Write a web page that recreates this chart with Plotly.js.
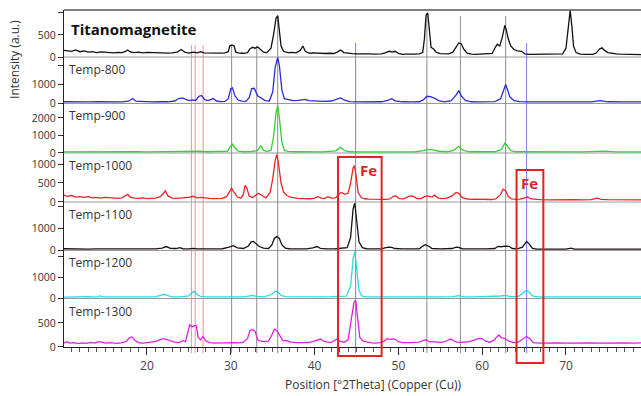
<!DOCTYPE html>
<html>
<head>
<meta charset="utf-8">
<script src="https://cdn.plot.ly/plotly-3.0.1.min.js"></script>
<style>
  html, body { margin: 0; padding: 0; background: #ffffff; }
  #chart { width: 641px; height: 396px; }
</style>
</head>
<body>
<div id="chart"></div>
<script>
// Position [°2θ] / intensity (counts) for each sample, top panel first
const titanoX = [10.1,11,11.5,12,12.5,13,13.5,14,14.5,15,15.5,16,16.5,17,17.4,17.7,18.0,18.5,19,19.5,20,20.5,21,21.5,22,22.5,23,23.6,24.1,24.5,25,25.5,26,26.4,26.8,27.3,27.8,28.3,28.8,29.3,29.7,29.9,30.2,30.4,30.6,31,31.5,32,32.3,32.6,32.9,33.2,33.5,33.9,34.3,34.8,35.1,35.4,35.6,35.8,36.0,36.3,36.8,37.3,37.8,38.3,38.6,38.9,39.3,39.8,40.3,40.8,41.3,41.8,42.3,42.7,43.1,43.5,44.0,44.5,45,45.5,46,46.5,47,47.5,48,48.5,48.9,49.3,49.6,50,50.5,51,51.5,52,52.5,52.9,53.1,53.3,53.5,53.7,53.9,54.2,54.5,55,55.5,56,56.5,56.9,57.2,57.5,57.8,58.2,58.7,59.2,59.7,60.2,60.7,61.2,61.5,61.8,62.1,62.4,62.7,62.9,63.1,63.4,63.8,64.2,64.7,65.1,65.6,66.1,66.6,67.1,67.6,68.1,68.6,69.1,69.6,70.0,70.3,70.5,70.7,70.9,71.2,71.7,72.2,72.7,73.2,73.6,74.0,74.3,74.6,75,75.5,76,76.5,77,77.5,78,79];
const titanoY = [150,130,160,120,140,110,120,100,115,105,110,95,105,100,120,160,115,100,110,95,105,100,110,95,100,90,95,110,170,110,90,110,95,120,95,90,100,85,90,95,120,260,270,250,110,90,85,100,190,220,200,230,180,110,100,200,500,880,940,620,250,130,100,105,95,150,250,130,90,95,85,90,80,85,80,110,160,100,80,75,70,75,65,70,65,70,70,100,130,110,130,85,60,65,60,65,70,100,400,950,1000,600,220,180,110,75,65,70,110,230,320,300,180,90,65,60,65,60,65,80,200,290,250,450,720,600,420,250,170,140,130,70,60,60,55,60,55,60,55,60,70,200,800,1060,700,250,100,65,60,55,60,90,180,210,150,100,80,70,65,60,60,55,55];

const t800X = [10.1,11,12,13,14,15,16,17,17.8,18.3,18.7,19.5,20.5,21.5,22.5,23.3,23.8,24.2,24.6,25,25.4,25.8,26.2,26.5,26.9,27.3,27.9,28.3,28.8,29.3,29.7,30.0,30.2,30.5,30.9,31.3,31.8,32.2,32.5,32.8,33.2,33.7,34.1,34.6,35.0,35.3,35.6,35.8,36.1,36.4,36.9,37.4,38,38.6,38.9,39.3,40,41,42,42.6,43.1,43.6,44.2,45,46,47,48,48.8,49.2,49.6,50.5,51.5,52.5,53.0,53.4,53.8,54.3,54.8,55.5,56.3,56.9,57.2,57.5,58,58.7,59.5,60.5,61.5,62.2,62.6,62.8,63.0,63.3,63.8,64.5,65.5,67,69,71,73,74.1,75,77,79];
const t800Y = [90,80,100,80,90,80,90,85,120,260,120,90,85,95,90,130,260,290,200,150,190,160,380,420,200,150,260,130,100,110,250,780,820,400,180,120,110,300,780,800,400,250,150,130,600,1900,2420,2000,700,250,180,150,160,200,220,150,120,110,130,200,290,170,100,85,80,80,90,180,250,140,90,80,90,200,380,360,280,150,90,150,450,680,400,160,90,80,80,100,250,700,1000,750,350,150,100,80,75,80,80,85,150,90,80,80];

const t900X = [10.1,12,14,16,18,18.3,18.7,20,22,24,25.5,26.3,27,28.5,29.6,30.0,30.2,30.5,30.9,31.5,32.5,33.2,33.6,33.9,34.3,34.8,35.1,35.4,35.6,35.8,36.1,36.4,37,38,39,40,41,42.5,43.1,43.6,44.2,45,46,48,50,52,53.0,53.5,54.2,54.8,55.8,56.6,57.2,57.7,58.5,60,61.5,62.3,62.7,63.0,63.4,64,66,68,70,72,74.5,76,79];
const t900Y = [60,70,60,65,80,110,70,60,65,70,110,100,70,65,100,400,500,300,100,70,75,150,420,150,90,150,900,2300,2700,2000,600,150,80,70,70,65,65,120,320,130,70,65,60,65,60,70,140,200,180,100,70,150,380,150,70,65,70,200,560,400,130,70,65,60,65,60,110,65,60];

const t1000X = [10.1,10.5,11,11.5,12,12.5,13,13.5,14,14.5,15,15.5,16,16.5,17,17.4,17.7,18,18.5,19,19.5,20,20.5,21,21.6,22.0,22.2,22.5,23,23.5,24,24.5,25,25.5,26,26.5,27,27.5,28,28.5,29,29.5,29.9,30.1,30.4,30.8,31.2,31.5,31.7,31.9,32.2,32.6,33,33.3,33.7,34.2,34.7,35.0,35.3,35.5,35.7,36.0,36.3,36.7,37.1,37.6,38,38.5,39,39.5,40.0,40.4,40.8,41.2,41.6,42,42.5,42.9,43.2,43.6,44.0,44.3,44.6,44.75,44.95,45.2,45.6,46,46.5,47,47.5,48,48.5,49,49.4,49.7,50.1,50.6,51.0,51.4,51.8,52.2,52.7,53.1,53.5,54.0,54.3,54.7,55.2,55.8,56.4,56.9,57.2,57.6,58.1,58.6,59.1,59.6,60.1,60.6,61.1,61.6,62.2,62.5,62.8,63.1,63.5,64,64.5,65.0,65.4,65.8,66.3,67,68,69,70,71,72,73,73.7,74.2,75,76,77,78,79];
const t1000Y = [180,150,170,130,140,120,140,110,120,100,120,110,105,95,110,150,200,130,100,95,110,90,95,100,140,260,290,160,100,95,100,110,120,150,110,120,100,95,90,100,95,140,300,360,250,130,100,200,440,380,150,120,180,230,170,110,250,600,1100,1250,1000,500,260,170,130,100,95,90,85,85,100,140,100,90,140,100,110,210,250,200,230,500,900,960,700,250,110,85,75,70,70,75,70,80,150,160,90,80,120,160,150,90,90,140,160,130,180,110,90,100,160,250,230,120,85,70,75,70,65,70,65,80,200,340,300,150,80,70,75,100,130,80,65,60,55,60,55,60,55,60,100,70,60,55,60,50,55];

const t1100X = [10.1,11,12,13,14,15,16,17,18,19,20,21,21.8,22.3,22.8,23.5,23.9,24.3,25,25.5,26,27,28,29,29.8,30.3,30.8,31.5,32.1,32.4,32.7,33.0,33.4,33.9,34.5,34.9,35.2,35.5,35.8,36.1,36.5,37,38,39,39.8,40.3,40.7,41.5,42.5,43.3,43.9,44.3,44.6,44.8,45.0,45.3,45.7,46.2,47,48,48.4,48.8,49.2,49.6,50.5,51.5,52.5,52.9,53.2,53.6,54,55,56.4,56.9,57.2,57.6,58.5,59.5,60.5,61.5,61.9,62.3,62.7,63.2,63.6,64.2,64.8,65.3,65.6,66,66.5,68,70,70.6,71,73,75,76,79];
const t1100Y = [80,70,85,65,75,65,80,70,75,65,80,70,110,180,100,90,130,80,75,95,75,70,75,80,150,215,120,90,200,380,410,300,180,110,90,250,550,640,550,250,110,80,75,70,120,180,100,75,80,100,130,600,1900,2150,1500,400,130,80,70,75,120,150,140,90,75,70,80,200,260,200,90,70,90,150,140,80,70,75,70,90,190,170,200,190,90,70,150,410,300,100,65,60,65,110,65,60,70,60,60];

const t1200X = [10.1,11,12,13,14,14.4,14.8,16,17,18,19,20,21,21.6,22.1,22.6,23,24,25,25.4,25.7,26.0,26.4,27,28,29,30,30.5,31.5,32.3,32.6,33,34,34.9,35.3,35.6,36,36.5,37.5,39,40,41,42,43,43.8,44.3,44.6,44.8,45.0,45.3,45.6,46.2,47,48,49,50,51,52,53,53.5,54,55,56.5,57.2,57.8,59,60,61,62.2,62.8,63.3,64.3,64.9,65.3,65.6,66,66.6,68,70,72,74,76,78,79];
const t1200Y = [70,80,75,85,70,120,75,70,80,75,80,75,80,150,200,120,80,75,120,300,320,180,100,80,75,75,100,90,80,130,150,100,80,200,350,330,150,90,80,80,85,80,85,90,110,600,1900,2230,1600,400,120,80,75,80,85,75,80,75,90,110,80,75,90,140,80,75,80,80,120,150,90,90,250,400,300,120,80,75,75,80,75,80,75,75];

const t1300X = [10.1,10.4,10.8,11.3,11.8,12.3,12.8,13.3,13.8,14.2,14.6,15,15.5,16,16.5,17,17.5,17.9,18.2,18.6,19,19.5,20,20.5,21,21.5,21.9,22.3,22.8,23.3,23.8,24.3,24.6,24.9,25.1,25.4,25.7,25.9,26.1,26.4,26.7,27,27.5,28,28.5,29,29.5,30,30.5,31,31.5,32.0,32.3,32.6,32.9,33.2,33.6,34,34.5,34.9,35.2,35.5,35.8,36.2,36.7,37.2,37.8,38.3,38.8,39.3,39.8,40.3,40.7,41.1,41.5,42,42.4,42.7,43.0,43.5,44.0,44.4,44.7,44.9,45.1,45.4,45.8,46.3,46.8,47.3,47.8,48.3,48.6,49,49.3,49.6,50,50.5,51,51.5,52,52.5,53,53.3,53.7,54.2,54.7,55.2,55.8,56.2,56.6,57,57.5,58,58.5,59.1,59.6,60,60.4,60.9,61.4,61.8,62.0,62.3,62.7,63.2,63.7,64.3,64.9,65.3,65.7,66.1,66.8,67.5,68,68.5,69,70,71,72,73,74,75,76,77,78,79];
const t1300Y = [80,110,80,90,70,85,75,95,80,110,100,80,90,85,75,90,110,190,210,130,90,80,85,90,110,150,175,160,130,100,90,130,110,350,460,420,450,440,200,150,220,130,90,80,85,80,90,100,90,85,100,180,350,360,330,150,120,110,120,250,370,340,260,140,130,100,90,85,80,90,110,150,165,120,100,95,130,170,120,100,150,550,930,970,600,200,120,95,85,80,90,120,175,160,170,160,110,90,85,90,95,100,140,150,110,100,105,95,130,165,130,100,95,100,110,150,180,170,120,100,140,220,250,190,180,120,90,100,180,220,170,90,80,85,90,80,85,80,85,80,85,80,85,80,85,80,85,80,80];

const sampleNames = ['Titanomagnetite', 'Temp-800', 'Temp-900', 'Temp-1000', 'Temp-1100', 'Temp-1200', 'Temp-1300'];
const seriesX = [titanoX, t800X, t900X, t1000X, t1100X, t1200X, t1300X];
const seriesY = [titanoY, t800Y, t900Y, t1000Y, t1100Y, t1200Y, t1300Y];

// Tick labels shown on each panel's intensity axis
const panelTicks = [
  [0, 500, 1000],
  [0, 1000, 2000],
  [0, 1000, 2000],
  [0, 500, 1000],
  [0, 1000, 2000],
  [0, 1000, 2000],
  [0, 500, 1000]
];
const panelTickText = [
  ['0', '500', ''],
  ['0', '1000', ''],
  ['0', '1000', '2000'],
  ['0', '500', '1000'],
  ['0', '1000', ''],
  ['0', '1000', ''],
  ['0', '500', '']
];
const xTickVals = [20, 30, 40, 50, 60, 70];

// Reference reflection positions (°2θ) and the height (counts, top panel) each marker rises to
const magnetitePos = [30.1, 33.1, 35.6, 53.4, 57.4, 62.8];
const magnetiteTop = [290, 240, 930, 1000, 930, 930];
const ironPos = [44.9, 65.3];
const ironTop = [320, 320];
const quartzPos = [25.3, 25.75, 26.7];
const quartzTop = [270, 270, 270];

// Highlighted Fe reflections: [x0, x1] in °2θ
const feBoxX = [[42.8, 48.0], [64.1, 67.3]];
const feLabelX = [46.4, 65.6];

// ---- styling & layout ----
const colors = ['#111111', '#2b2bd9', '#2fd42f', '#ee2424', '#1a1212', '#27dede', '#e020e0'];
const axisMax = [1067, 2446, 2820, 1290, 2207, 2285, 1010];
const edges = [1, 0.8605, 0.7226, 0.5757, 0.4303, 0.2864, 0.1439, 0];
const labelShift = [0, 0, 2.5, -2.5, 0, 0, 0];
const FONT = '"Open Sans", "Noto Sans", sans-serif';

const traces = sampleNames.map((name, i) => ({
  type: 'scatter',
  mode: 'lines',
  name: name,
  x: seriesX[i],
  y: seriesY[i],
  xaxis: 'x',
  yaxis: i === 0 ? 'y' : 'y' + (i + 1),
  line: { color: colors[i], width: 1.3 },
  hoverinfo: 'skip'
}));

const layout = {
  width: 641,
  height: 396,
  margin: { l: 64, r: 0, t: 10, b: 49 },
  paper_bgcolor: '#ffffff',
  plot_bgcolor: 'rgba(0,0,0,0)',
  showlegend: false,
  font: { family: FONT, color: '#333', size: 12 },
  xaxis: {
    range: [10.1, 78.95],
    anchor: 'y7',
    tickvals: xTickVals,
    ticks: 'outside',
    ticklen: 7,
    tickcolor: '#333',
    showline: true,
    linecolor: '#222',
    linewidth: 1.2,
    showgrid: false,
    zeroline: false,
    tickfont: { family: FONT, size: 12, color: '#444' },
    minor: { dtick: 1, tick0: 0, ticks: 'outside', ticklen: 4, tickcolor: '#555', showgrid: false }
  },
  shapes: [],
  annotations: []
};

for (let i = 0; i < 7; i++) {
  const key = i === 0 ? 'yaxis' : 'yaxis' + (i + 1);
  layout[key] = {
    domain: [edges[i + 1], edges[i]],
    range: [0, axisMax[i]],
    anchor: 'x',
    tickvals: panelTicks[i],
    ticktext: panelTickText[i],
    ticks: 'outside',
    ticklen: 5,
    tickcolor: '#333',
    ticklabelshift: labelShift[i],
    showline: true,
    linecolor: '#222',
    linewidth: 1.2,
    showgrid: false,
    zeroline: false,
    tickfont: { family: FONT, size: 10.5, color: '#333' }
  };
  // zero line across each panel
  if (i < 6) {
    layout.shapes.push({
      type: 'line', xref: 'paper', yref: 'paper', x0: 0, x1: 1,
      y0: edges[i + 1], y1: edges[i + 1],
      line: { color: '#9a9a9a', width: 1 }, layer: 'below'
    });
  }
  // sample label
  layout.annotations.push({
    text: i === 0 ? '<b>' + sampleNames[i] + '</b>' : sampleNames[i],
    xref: 'paper', yref: (i === 0 ? 'y' : 'y' + (i + 1)) + ' domain',
    x: 0, y: 1, xanchor: 'left', yanchor: 'top',
    xshift: i === 0 ? 5 : 3, yshift: i === 0 ? -7 : -2,
    showarrow: false,
    font: i === 0 ? { family: FONT, size: 15, color: '#111' } : { family: FONT, size: 12, color: '#333' }
  });
}

// top frame
layout.shapes.push({
  type: 'line', xref: 'paper', yref: 'paper', x0: 0, x1: 1, y0: 1, y1: 1,
  line: { color: '#555', width: 1.5 }
});

// reference markers, running from the top panel down through the axis
function topPaper(count) {
  return edges[1] + (count / axisMax[0]) * (edges[0] - edges[1]);
}
function addMarkers(pos, tops, color) {
  pos.forEach((p, k) => {
    layout.shapes.push({
      type: 'line', xref: 'x', yref: 'paper', x0: p, x1: p,
      y0: -0.018, y1: topPaper(tops[k]),
      line: { color: color, width: 1 }, layer: 'below'
    });
  });
}
addMarkers(magnetitePos, magnetiteTop, '#8c8c8c');
addMarkers(ironPos, ironTop, '#7a7ae8');
addMarkers(quartzPos, quartzTop, '#ee9090');

// Fe highlight boxes
const boxTop = [0.5638, 0.525];
const boxBottom = [-0.027, -0.0475];
feBoxX.forEach((b, k) => {
  layout.shapes.push({
    type: 'rect', xref: 'x', yref: 'paper', x0: b[0], x1: b[1],
    y0: boxBottom[k], y1: boxTop[k],
    line: { color: '#e02222', width: 2 }, fillcolor: 'rgba(0,0,0,0)', layer: 'above'
  });
  layout.annotations.push({
    text: '<b>Fe</b>', xref: 'x', yref: 'paper', x: feLabelX[k], y: boxTop[k],
    xanchor: 'center', yanchor: 'top', yshift: -1, showarrow: false,
    font: { family: FONT, size: 15, color: '#e02222' }
  });
});

// axis titles
layout.annotations.push({
  text: 'Intensity (a.u.)', textangle: -90,
  xref: 'paper', yref: 'paper', x: 0, y: 0.852, xshift: -49,
  xanchor: 'center', yanchor: 'middle', showarrow: false,
  font: { family: FONT, size: 12, color: '#333' }
});
layout.annotations.push({
  text: 'Position [°2Theta] (Copper (Cu))',
  xref: 'paper', yref: 'paper', x: 0.537, y: -0.11,
  xanchor: 'center', yanchor: 'middle', showarrow: false,
  font: { family: FONT, size: 12, color: '#333' }
});

Plotly.newPlot('chart', traces, layout, { staticPlot: true, displayModeBar: false });
</script>
</body>
</html>
